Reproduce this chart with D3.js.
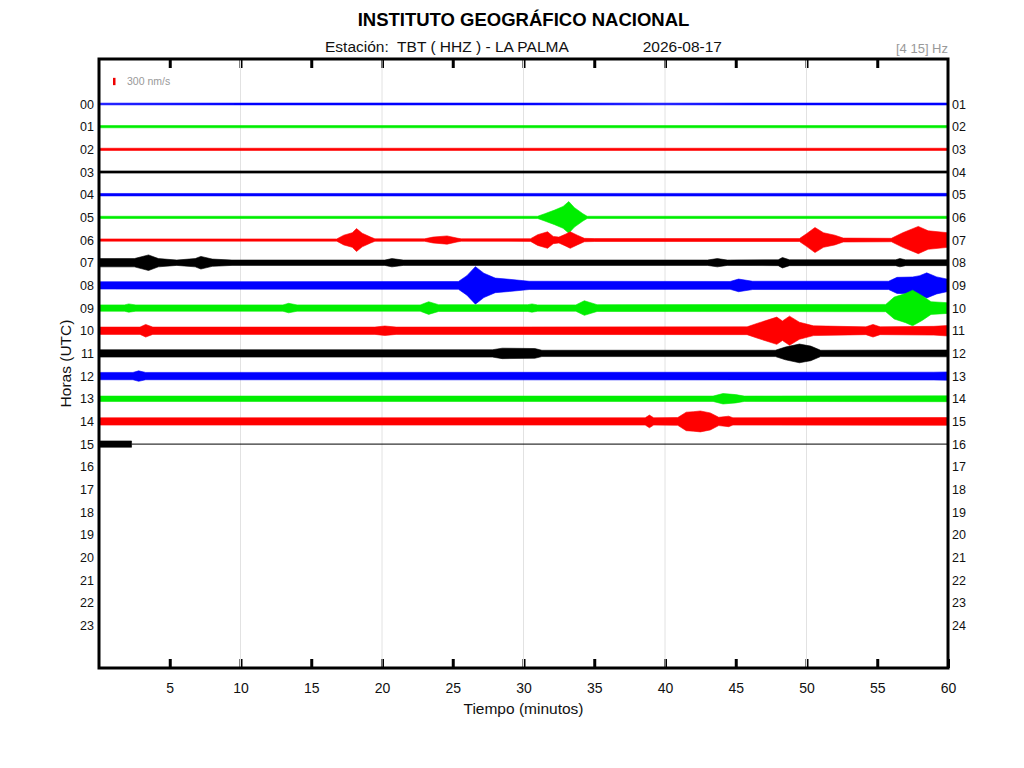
<!DOCTYPE html>
<html>
<head>
<meta charset="utf-8">
<script src="https://cdn.jsdelivr.net/npm/d3@7"></script>
<style>
    body { margin: 0; background: #fff; }
    text { font-family: "Liberation Sans", Arial, Helvetica, sans-serif; }
</style>
</head>
<body>
<script>
// hour rows (left labels) and trace colours, cycling blue / green / red / black
const hours = ['00','01','02','03','04','05','06','07','08','09','10','11',
               '12','13','14','15','16','17','18','19','20','21','22','23'];
const rightHours = ['01','02','03','04','05','06','07','08','09','10','11','12',
                    '13','14','15','16','17','18','19','20','21','22','23','24'];
const traceColors = ['#0000ff', '#00ee00', '#ff0000', '#000000'];
const minuteTicks = [5, 10, 15, 20, 25, 30, 35, 40, 45, 50, 55, 60];
const gridMinutes = [10, 20, 30, 40, 50];

// trace envelopes: [minute, half amplitude in nm/s]
const row00 = [[0, 35], [20, 40], [40, 35], [60, 40]];
const row01 = [[0, 45], [60, 45]];
const row02 = [[0, 45], [60, 45]];
const row03 = [[0, 45], [60, 45]];
const row04 = [[0, 50], [60, 55]];
const row05 = [[0, 45], [31, 45], [31.5, 150], [32.2, 300], [32.8, 450], [33.2, 650], [33.6, 400],
               [34.2, 150], [34.5, 45], [60, 45]];
const row06 = [[0, 45], [16.8, 45], [17.3, 200], [17.9, 300], [18.2, 470], [18.6, 280], [19.2, 120],
               [19.5, 50], [23.0, 50], [23.6, 120], [24.6, 170], [25.3, 80], [25.6, 50], [30.5, 55],
               [31.0, 220], [31.7, 340], [32.1, 150], [32.5, 120], [33.0, 250], [33.3, 340], [33.8, 200],
               [34.3, 70], [35, 60], [49.5, 60], [50.0, 260], [50.6, 515], [51.2, 300], [52.0, 200],
               [52.6, 80], [56.0, 70], [56.8, 300], [57.9, 560], [58.6, 380], [60, 300]];
const row07 = [[0, 170], [2.5, 170], [3.5, 320], [4.2, 170], [5.5, 110], [6.8, 170], [7.2, 260],
               [8.0, 150], [9.4, 110], [20.2, 110], [20.7, 170], [21.5, 110], [43, 110], [43.7, 170],
               [44.4, 110], [48.0, 120], [48.3, 215], [48.8, 120], [56.3, 120], [56.6, 170], [57, 120],
               [60, 120]];
const row08 = [[0, 150], [25.4, 160], [26.0, 400], [26.6, 770], [27.2, 500], [28.0, 300], [29.0, 250],
               [30.4, 170], [44.6, 160], [45.2, 260], [46.2, 170], [55.8, 170], [56.4, 330], [57.5, 345],
               [58.0, 400], [58.5, 515], [59.2, 350], [60, 250]];
const row09 = [[0, 130], [1.8, 130], [2.1, 170], [2.6, 130], [13.0, 130], [13.4, 195], [14, 130],
               [22.7, 130], [23.3, 260], [24, 140], [30.3, 140], [30.6, 170], [31, 130], [33.7, 130],
               [34.3, 300], [35.2, 140], [55.6, 150], [56.2, 450], [57.0, 600], [57.5, 730], [58.2, 500],
               [58.8, 260], [60, 220]];
const row10 = [[0, 150], [2.9, 150], [3.3, 260], [3.8, 150], [19.5, 150], [20.2, 195], [21, 150],
               [45.8, 160], [46.5, 300], [47.9, 560], [48.3, 400], [48.8, 600], [49.5, 350], [50.5, 200],
               [54.2, 160], [54.7, 260], [55.2, 160], [59, 180], [60, 215]];
const row11 = [[0, 150], [27.8, 150], [28.5, 215], [30.8, 200], [31.3, 130], [47.8, 130], [48.5, 260],
               [49.5, 385], [50.3, 300], [51.0, 130], [60, 140]];
const row12 = [[0, 150], [2.4, 150], [2.8, 215], [3.3, 150], [59, 160], [60, 170]];
const row13 = [[0, 110], [43.4, 110], [44.1, 215], [45.0, 170], [45.6, 110], [60, 120]];
const row14 = [[0, 150], [38.6, 150], [38.9, 260], [39.2, 150], [40.9, 160], [41.5, 380], [42.0, 400],
               [42.5, 430], [43.2, 350], [43.8, 170], [44.5, 215], [44.8, 150], [60, 160]];
const row15 = [[0, 130], [2.3, 130]];
const traces = [row00, row01, row02, row03, row04, row05, row06, row07,
                row08, row09, row10, row11, row12, row13, row14, row15];

const scaleBarValue = 300;

const width = 1024;
const height = 768;
const plot = {left: 99, right: 948, top: 59, bottom: 668};

var svg = d3.select('body').append('svg')
    .attr('width', width)
    .attr('height', height);

const xScale = d3.scaleLinear()
    .domain([0, 60])
    .range([plot.left, plot.right]);

const rowScale = d3.scaleLinear()
    .domain([0, 23])
    .range([104, 625.5]);

// 300 nm/s is about 7 px on the page
const ampScale = d3.scaleLinear()
    .domain([0, scaleBarValue])
    .range([0, 7.3]);

// ticks, drawn first so the grid sits on top of them
svg.append('g')
    .attr('transform', `translate(0, ${plot.bottom})`)
    .call(d3.axisBottom(xScale).tickValues(minuteTicks).tickSizeInner(-9).tickSizeOuter(0).tickPadding(15))
    .call(g => g.select('.domain').remove())
    .call(g => g.selectAll('.tick line').attr('stroke', '#000').attr('stroke-width', 3))
    .call(g => g.selectAll('.tick text').attr('font-size', 14).attr('fill', '#111'));

svg.append('g')
    .attr('transform', `translate(0, ${plot.top})`)
    .call(d3.axisTop(xScale).tickValues(minuteTicks.slice(0, -1)).tickSizeInner(-9).tickSizeOuter(0).tickFormat(''))
    .call(g => g.select('.domain').remove())
    .call(g => g.selectAll('.tick line').attr('stroke', '#000').attr('stroke-width', 3));

svg.append('g')
    .selectAll('line')
    .data(gridMinutes)
    .join('line')
    .attr('x1', d => xScale(d))
    .attr('x2', d => xScale(d))
    .attr('y1', plot.top + 1)
    .attr('y2', plot.bottom - 1)
    .attr('stroke', '#e2e2e2')
    .attr('stroke-width', 1);

// hour labels
svg.append('g')
    .attr('transform', `translate(${plot.left - 3}, 0)`)
    .call(d3.axisLeft(rowScale).tickValues(d3.range(hours.length)).tickSize(0).tickPadding(2)
        .tickFormat(i => hours[i]))
    .call(g => g.select('.domain').remove())
    .call(g => g.selectAll('.tick text').attr('font-size', 12.5).attr('fill', '#111'));

svg.append('g')
    .attr('transform', `translate(${plot.right + 2}, 0)`)
    .call(d3.axisRight(rowScale).tickValues(d3.range(rightHours.length)).tickSize(0).tickPadding(2)
        .tickFormat(i => rightHours[i]))
    .call(g => g.select('.domain').remove())
    .call(g => g.selectAll('.tick text').attr('font-size', 12.5).attr('fill', '#111'));

drawTraces(svg, traces);
drawFrame(svg);
drawLabels(svg);

function drawTraces(surface, rows) {
    const g = surface.append('g').attr('class', 'traces');

    rows.forEach((row, i) => {
        const y0 = rowScale(i);
        const color = traceColors[i % traceColors.length];
        const area = d3.area()
            .x(d => xScale(d[0]))
            .y0(d => y0 + ampScale(d[1]))
            .y1(d => y0 - ampScale(d[1]));

        g.append('path')
            .datum(row)
            .attr('d', area)
            .attr('fill', color)
            .attr('stroke', color)
            .attr('stroke-width', 0.6);
    });

    // the running hour keeps a flat line to the end of the row
    const last = rows.length - 1;
    const lastRow = rows[last];
    g.append('line')
        .attr('x1', xScale(lastRow[lastRow.length - 1][0]))
        .attr('x2', xScale(60))
        .attr('y1', rowScale(last))
        .attr('y2', rowScale(last))
        .attr('stroke', traceColors[last % traceColors.length])
        .attr('stroke-width', 1);
}

function drawFrame(surface) {
    surface.append('rect')
        .attr('x', plot.left)
        .attr('y', plot.top)
        .attr('width', plot.right - plot.left)
        .attr('height', plot.bottom - plot.top)
        .attr('fill', 'none')
        .attr('stroke', '#000')
        .attr('stroke-width', 3);
}

function drawLabels(surface) {
    const mid = (plot.left + plot.right) / 2;

    surface.append('text')
        .text('INSTITUTO GEOGRÁFICO NACIONAL')
        .attr('x', mid)
        .attr('y', 26)
        .attr('text-anchor', 'middle')
        .attr('font-size', 18.5)
        .attr('font-weight', 'bold');

    surface.append('text')
        .text('Estación:  TBT ( HHZ ) - LA PALMA')
        .attr('x', 325)
        .attr('y', 52)
        .attr('font-size', 15.5)
        .attr('fill', '#111')
        .style('white-space', 'pre');

    surface.append('text')
        .text('2026-08-17')
        .attr('x', 722)
        .attr('y', 52)
        .attr('text-anchor', 'end')
        .attr('font-size', 15.5)
        .attr('fill', '#111');

    surface.append('text')
        .text('[4 15] Hz')
        .attr('x', plot.right)
        .attr('y', 53)
        .attr('text-anchor', 'end')
        .attr('font-size', 13)
        .attr('fill', '#999');

    // amplitude scale bar
    surface.append('rect')
        .attr('x', 113)
        .attr('y', 81.5 - ampScale(scaleBarValue) / 2)
        .attr('width', 2.5)
        .attr('height', ampScale(scaleBarValue))
        .attr('fill', '#ee0000');

    surface.append('text')
        .text(scaleBarValue + ' nm/s')
        .attr('x', 127)
        .attr('y', 85)
        .attr('font-size', 10.5)
        .attr('fill', '#999');

    surface.append('text')
        .text('Tiempo (minutos)')
        .attr('x', mid)
        .attr('y', 714)
        .attr('text-anchor', 'middle')
        .attr('font-size', 15.5)
        .attr('fill', '#111');

    surface.append('text')
        .text('Horas (UTC)')
        .attr('x', 0)
        .attr('y', 0)
        .attr('text-anchor', 'middle')
        .attr('font-size', 15.5)
        .attr('fill', '#111')
        .attr('transform', `translate(71, ${(plot.top + plot.bottom) / 2}) rotate(-90)`);
}
</script>
</body>
</html>
